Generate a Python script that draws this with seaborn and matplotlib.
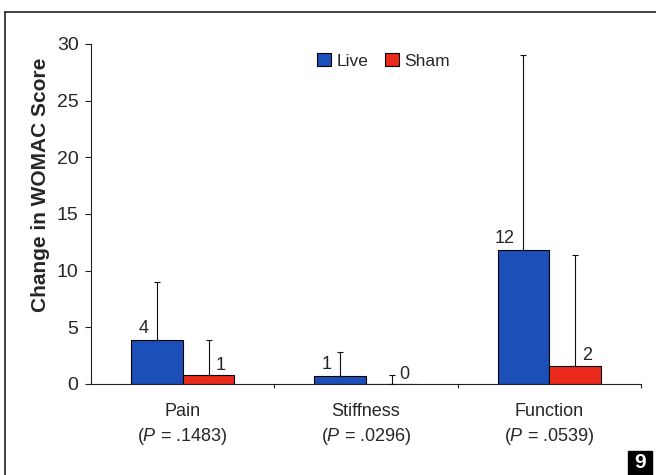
import numpy as np
import pandas as pd
import matplotlib
matplotlib.use('Agg')
import matplotlib.pyplot as plt
import seaborn as sns
from matplotlib.lines import Line2D
from matplotlib.patches import Rectangle

# values
measures = ['Pain', 'Stiffness', 'Function']
p_labels = ['.1483', '.0296', '.0539']
live_vals = [3.9, 0.7, 11.8]
sham_vals = [0.8, 0.0, 1.6]
live_err = [5.1, 2.1, 17.2]
sham_err = [3.1, 0.8, 9.8]
live_text = ['4', '1', '12']
sham_text = ['1', '0', '2']

sns.set_style('white')
plt.rcParams['font.family'] = ['Liberation Sans', 'DejaVu Sans']
plt.rcParams['mathtext.fontset'] = 'custom'
plt.rcParams['mathtext.rm'] = 'Liberation Sans'
plt.rcParams['mathtext.it'] = 'Liberation Sans:italic'

df = pd.DataFrame({
    'measure': measures * 2,
    'group': ['Live'] * 3 + ['Sham'] * 3,
    'value': live_vals + sham_vals,
})

colors = {'Live': '#1c4fb8', 'Sham': '#ec2a1c'}

fig = plt.figure(figsize=(6.56, 4.75), dpi=100)
ax = fig.add_axes([91/656, 1 - 384/475, 550/656, 340/475])

sns.barplot(data=df, x='measure', y='value', hue='group', palette=colors,
            width=0.565, gap=0, edgecolor='black', linewidth=0.8,
            errorbar=None, ax=ax, saturation=1)

# upper error bars + value labels
errs = [live_err, sham_err]
texts = [live_text, sham_text]
for k, cont in enumerate(ax.containers[:2]):
    for i, bar in enumerate(cont):
        x = bar.get_x() + bar.get_width() / 2
        h = bar.get_height()
        ax.errorbar(x, h, yerr=[[0], [errs[k][i]]], fmt='none', ecolor='#111111',
                    elinewidth=0.8, capsize=2.2, capthick=0.8, zorder=3)
        if k == 0:
            ax.annotate(texts[k][i], (x, h), xytext=(-6, 2), textcoords='offset points',
                        ha='right', va='bottom', fontsize=13)
        else:
            ax.annotate(texts[k][i], (x, h), xytext=(5, 1), textcoords='offset points',
                        ha='left', va='bottom', fontsize=13)

ax.set_xlim(-0.5, 2.5)
ax.set_ylim(0, 30)
ax.set_yticks(np.arange(0, 31, 5))
ax.tick_params(axis='y', which='major', direction='out', length=4, width=0.8,
               labelsize=14, pad=5, left=True, color='#222222')

ticklabels = [m + '\n($\\it{P}$ = ' + p + ')' for m, p in zip(measures, p_labels)]
ax.set_xticks([0, 1, 2])
ax.set_xticklabels(ticklabels)
ax.set_xticks([0.5, 1.5, 2.5], minor=True)
ax.tick_params(axis='x', which='major', length=0, labelsize=13, pad=14)
ax.tick_params(axis='x', which='minor', direction='out', length=3, width=0.8,
               bottom=True, color='#222222')
for lab in ax.get_xticklabels():
    lab.set_linespacing(1.4)

ax.set_xlabel('')
ax.set_ylabel('Change in WOMAC Score', fontsize=15, fontweight='bold')
ax.yaxis.set_label_coords(-0.075, 0.585)

sns.despine(ax=ax, top=True, right=True)
for s in ['left', 'bottom']:
    ax.spines[s].set_linewidth(0.8)
    ax.spines[s].set_color('#222222')

ax.legend(loc='center', bbox_to_anchor=(0.532, 0.95), ncol=2, frameon=False,
          fontsize=12.5, handlelength=0.8, handleheight=0.8, handletextpad=0.3,
          columnspacing=1.0, borderpad=0)

# page frame and figure number box
fig.add_artist(Line2D([5/656, 5/656], [0, 1 - 12/475], transform=fig.transFigure,
                      color='#222222', lw=1.2))
fig.add_artist(Line2D([5/656, 1], [1 - 12/475, 1 - 12/475], transform=fig.transFigure,
                      color='#222222', lw=1.2))
fig.add_artist(Rectangle((628/656, 0), 24/656, 24/475, transform=fig.transFigure,
                         color='black'))
fig.text(640/656, 12/475, '9', color='white', fontsize=15, fontweight='bold',
         ha='center', va='center')

fig.savefig('out.png', dpi=100)
